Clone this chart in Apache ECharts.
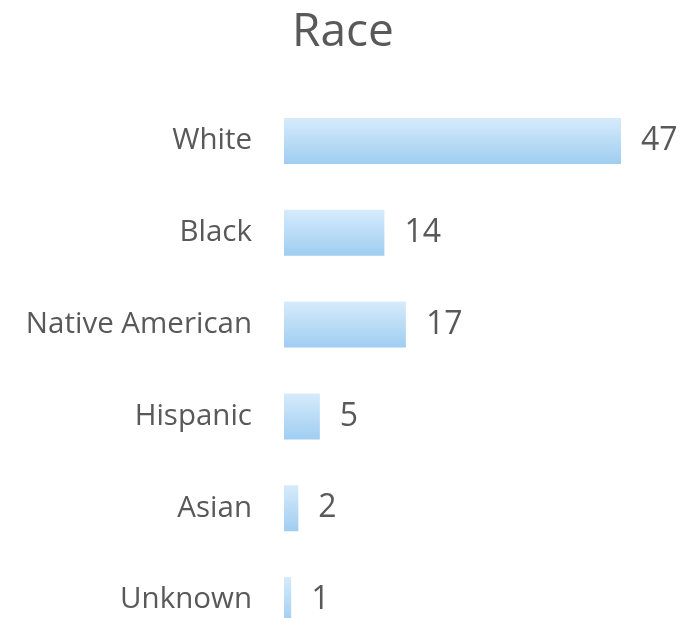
<!DOCTYPE html>
<html>
<head>
<meta charset="utf-8">
<script src="https://cdn.jsdelivr.net/npm/echarts@6/dist/echarts.min.js"></script>
<style>
html,body{margin:0;padding:0;background:#fff;}
#chart{width:699px;height:618px;}
</style>
</head>
<body>
<div id="chart"></div>
<script>
const titleText = "Race";
const categories = ["White", "Black", "Native American", "Hispanic", "Asian", "Unknown"];
const counts = [47, 14, 17, 5, 2, 1];

const chart = echarts.init(document.getElementById('chart'));
chart.setOption({
  backgroundColor: '#ffffff',
  animation: false,
  title: {
    text: titleText,
    left: 287,
    top: 5,
    textStyle: { fontFamily: 'Open Sans', fontSize: 46, fontWeight: 'normal', color: '#595959' }
  },
  grid: { left: 284, top: 95, height: 551, right: 56.5, outerBoundsMode: 'none', containLabel: false },
  xAxis: {
    type: 'value', min: 0, max: 50, show: false
  },
  yAxis: {
    type: 'category', data: categories, inverse: true,
    axisLine: { show: false }, axisTick: { show: false },
    axisLabel: { margin: 32, fontFamily: 'Open Sans', fontSize: 29.5, color: '#595959' }
  },
  series: [{
    type: 'bar',
    data: counts,
    barWidth: 46,
    itemStyle: {
      color: new echarts.graphic.LinearGradient(0, 0, 0, 1, [
        { offset: 0, color: '#d6ebfb' },
        { offset: 1, color: '#9fcdf1' }
      ])
    },
    label: {
      show: true, position: 'right', distance: 20,
      fontFamily: 'Open Sans', fontSize: 32, color: '#595959'
    }
  }]
});
</script>
</body>
</html>
